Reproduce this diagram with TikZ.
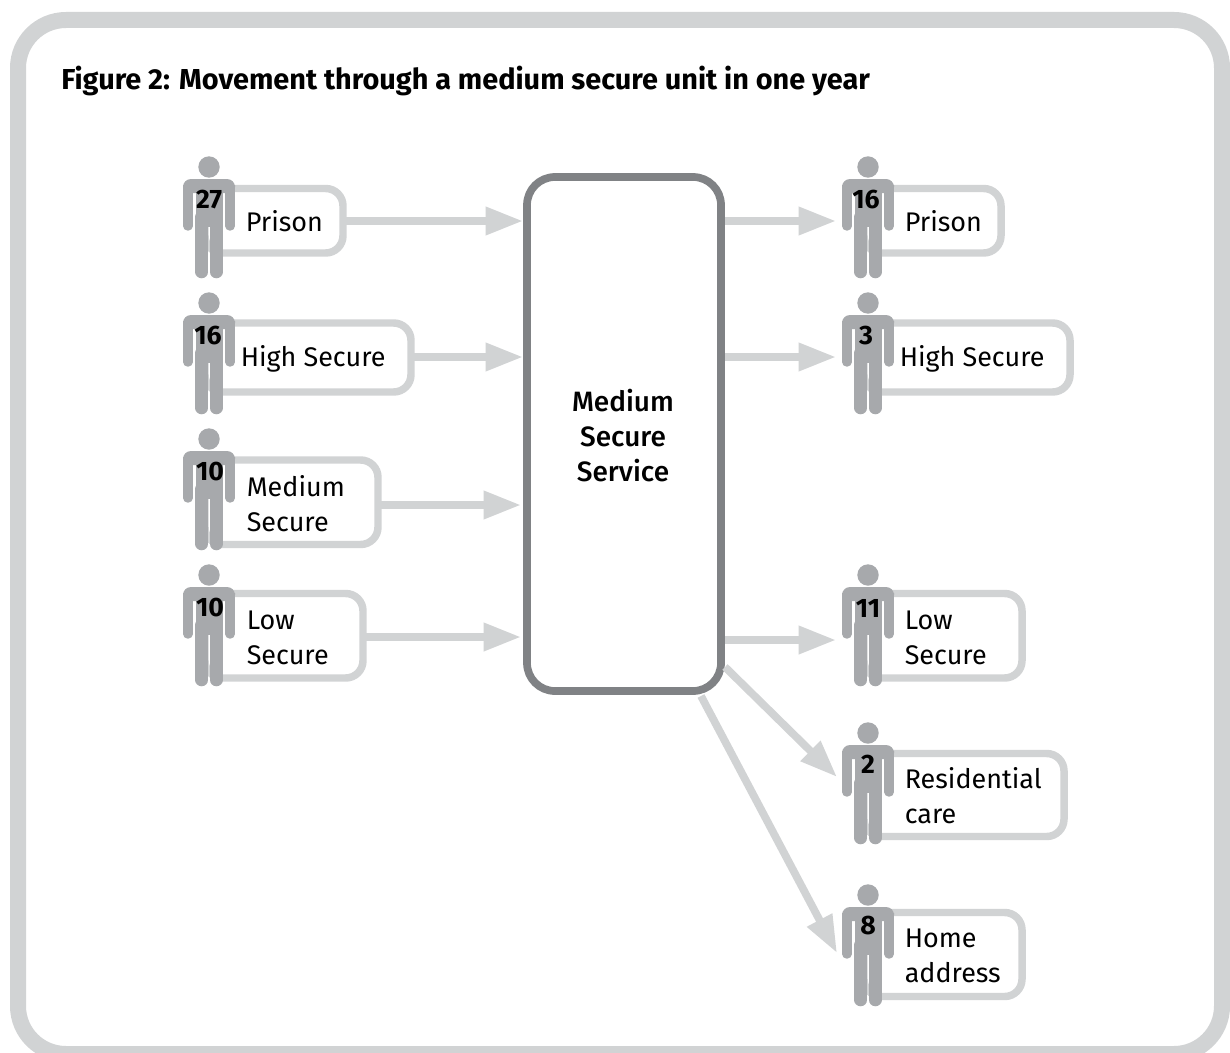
\documentclass[tikz,border=0pt]{standalone}
\usepackage{fontspec}
\setmainfont{Fira Sans}
\newfontfamily\medf{Fira Sans Medium}
\usetikzlibrary{arrows.meta,calc}
\definecolor{frameg}{HTML}{D1D3D4}
\definecolor{persong}{HTML}{A7A9AC}
\definecolor{centerg}{HTML}{808285}
\tikzset{
  flowarrow/.style={draw=frameg,line width=5.8pt,-{Triangle[length=28pt,width=20pt,fill=frameg]}},
  boxstyle/.style={draw=frameg,line width=5.6pt,rounded corners=13pt,fill=white,inner sep=0pt,outer sep=0pt},
  lab/.style={anchor=base west,inner sep=0pt,font=\fontsize{20.2pt}{20.2pt}\selectfont,text=black},
  num/.style={anchor=center,inner sep=0pt,font=\fontsize{20pt}{20pt}\selectfont\bfseries,text=black},
  ctrlab/.style={inner sep=0pt,anchor=base,font=\fontsize{21pt}{21pt}\medf,text=black},
  person/.pic={
    \fill[persong] (0,0) circle (10.7);
    \fill[persong,rounded corners=6pt] (-26,26) -- (-26,12) -- (26,12) -- (26,26) -- cycle;
    \fill[persong] (-26,20) rectangle (-16.5,26);
    \fill[persong] (16.5,20) rectangle (26,26);
    \fill[persong] (-13.5,20) rectangle (13.5,60);
    \draw[persong,line width=7.1pt,line cap=round] (-21.2,22) -- (-21.2,59);
    \draw[persong,line width=7.1pt,line cap=round] (21.2,22) -- (21.2,59);
    \draw[persong,line width=9.4pt,line cap=round] (-7.25,50) -- (-7.25,105);
    \draw[persong,line width=9.4pt,line cap=round] (7.25,50) -- (7.25,105);
  }
}
% name, left, top, right, bottom
\newcommand{\flowbox}[5]{%
  \pgfmathsetmacro{\bw}{(#4-#2)*0.75}%
  \pgfmathsetmacro{\bh}{(#5-#3)*0.75}%
  \node[boxstyle,minimum width=\bw pt,minimum height=\bh pt] (#1) at ({(#2+#4)/2},{(#3+#5)/2}) {};}
\begin{document}
\begin{tikzpicture}[x=0.75pt,y=-0.75pt]
\useasboundingbox (0,0) rectangle (1230,1052);
\clip (0,0) rectangle (1230,1052);
\fill[white] (0,0) rectangle (1230,1052);
\draw[frameg,line width=12pt,rounded corners=36pt] (18,20) rectangle (1222,1054);
\node[anchor=base west,inner sep=0pt,font=\fontsize{21.65pt}{21.65pt}\selectfont\bfseries] (title) at (61,90) {Figure 2: Movement through a medium secure unit in one year};

\node[draw=centerg,line width=5.8pt,rounded corners=21pt,fill=white,inner sep=0pt,outer sep=0pt,minimum width=145.5pt,minimum height=385.5pt] (ctr) at (624,434) {};
\node[ctrlab] (c1) at (623,411) {Medium};
\node[ctrlab] (c2) at (623,446) {Secure};
\node[ctrlab] (c3) at (623,481) {Service};

% left boxes
\flowbox{lA}{205}{188.5}{343}{253}
\flowbox{lB}{205}{323}{411}{392}
\flowbox{lC}{205}{460}{378}{544.5}
\flowbox{lD}{205}{593.5}{363}{678}
% right boxes
\flowbox{rA}{864}{188.5}{1001}{253}
\flowbox{rB}{864}{323}{1070}{392}
\flowbox{rD}{864}{593.5}{1022}{678}
\flowbox{rE}{864}{753.5}{1064}{836.5}
\flowbox{rF}{864}{912.5}{1022}{996.5}

% arrow ends
\coordinate (tA) at (523,221);
\coordinate (tB) at (523,357);
\coordinate (tC) at (521,505);
\coordinate (tD) at (521,637);
\coordinate (sA) at (725,221);
\coordinate (sB) at (725,357);
\coordinate (sD) at (725,640);
\coordinate (sE) at (725,667);
\coordinate (sF) at (701,696);
\coordinate (eA) at (836,221);
\coordinate (eB) at (836,357);
\coordinate (eD) at (836,640);
\coordinate (eE) at (837,777);
\coordinate (eF) at (837,953);

\draw[flowarrow] (lA.east |- tA) -- (tA);
\draw[flowarrow] (lB.east |- tB) -- (tB);
\draw[flowarrow] (lC.east |- tC) -- (tC);
\draw[flowarrow] (lD.east |- tD) -- (tD);
\draw[flowarrow] (sA) -- (eA);
\draw[flowarrow] (sB) -- (eB);
\draw[flowarrow] (sD) -- (eD);
\draw[flowarrow] (sE) -- (eE);
\draw[flowarrow] (sF) -- (eF);

% people
\foreach \yy in {167,303,439,575} \pic at (209,\yy) {person};
\foreach \yy in {167,303,575,733,895} \pic at (868,\yy) {person};

% numbers
\node[num] (n1) at (209,200) {27};
\node[num] (n2) at (208,336) {16};
\node[num] (n3) at (210,472) {10};
\node[num] (n4) at (210,608) {10};
\node[num] (n5) at (866,200) {16};
\node[num] (n6) at (866,336) {3};
\node[num] (n7) at (868,608) {11};
\node[num] (n8) at (868,764) {2};
\node[num] (n9) at (868,926) {8};

% labels
\node[lab] (t1) at (245.5,231) {Prison};
\node[lab] (t2) at (240.5,366) {High Secure};
\node[lab] (t3) at (246.5,496) {Medium};
\node[lab] (t3b) at (246.5,531) {Secure};
\node[lab] (t4) at (246.5,629) {Low};
\node[lab] (t4b) at (246.5,664) {Secure};
\node[lab] (t5) at (904.5,231) {Prison};
\node[lab] (t6) at (899.5,366) {High Secure};
\node[lab] (t7) at (904.5,629) {Low};
\node[lab] (t7b) at (904.5,664) {Secure};
\node[lab] (t8) at (904.5,788) {Residential};
\node[lab] (t8b) at (904.5,823) {care};
\node[lab] (t9) at (904.5,947) {Home};
\node[lab] (t9b) at (904.5,982) {address};
\end{tikzpicture}
\end{document}
